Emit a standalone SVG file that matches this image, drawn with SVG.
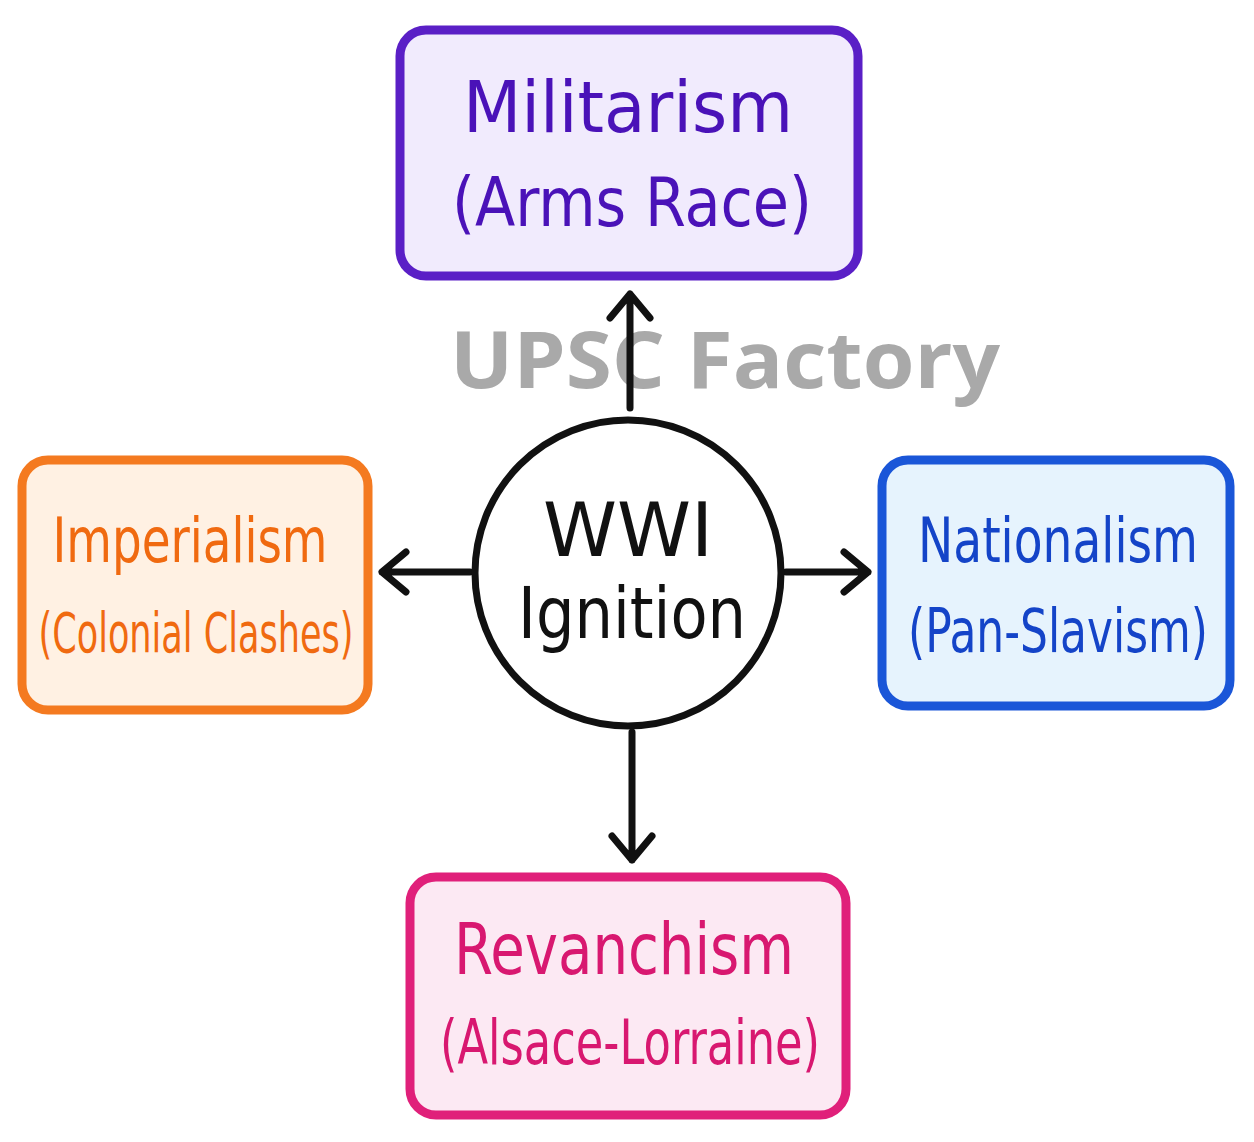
<svg xmlns="http://www.w3.org/2000/svg" width="1254" height="1142" viewBox="0 0 1254 1142">
<style>
.box{stroke-width:9}
.t{font-family:"DejaVu Sans Condensed","DejaVu Sans",sans-serif;font-stretch:condensed;text-anchor:middle}
.c{stroke:#111;stroke-width:7;fill:none;stroke-linecap:round;stroke-linejoin:round}
</style>
<rect width="1254" height="1142" fill="#fff"/>
<text x="725" y="388" font-family="Open Sans, sans-serif" font-weight="bold" font-size="78" fill="#a9a9a9" text-anchor="middle" textLength="550" lengthAdjust="spacingAndGlyphs">UPSC Factory</text>
<g id="connectors">
<path class="c" d="M630,408 L630,294 M610,318 L630,294 L650,318"/>
<path class="c" d="M470,572 L382,572 M406,552 L382,572 L406,592"/>
<path class="c" d="M786,572 L868,572 M844,552 L868,572 L844,592"/>
<path class="c" d="M632,732 L632,860 M612,836 L632,860 L652,836"/>
</g>
<g id="militarism">
<rect class="box" x="400" y="30" width="458" height="246" rx="26" fill="#f1ebfd" stroke="#5a1fc6"/>
<text class="t" x="628" y="132" font-size="72" fill="#4a12b8" textLength="330" lengthAdjust="spacingAndGlyphs">Militarism</text>
<text class="t" x="632" y="226" font-size="68" fill="#4a12b8" textLength="360" lengthAdjust="spacingAndGlyphs">(Arms Race)</text>
</g>
<g id="imperialism">
<rect class="box" x="22" y="460" width="346" height="250" rx="26" fill="#fff1e3" stroke="#f47a20"/>
<text class="t" x="190" y="562" font-size="62" fill="#f06a10" textLength="275" lengthAdjust="spacingAndGlyphs">Imperialism</text>
<text class="t" x="196" y="652" font-size="56" fill="#f06a10" textLength="315" lengthAdjust="spacingAndGlyphs">(Colonial Clashes)</text>
</g>
<g id="nationalism">
<rect class="box" x="882" y="460" width="348" height="246" rx="26" fill="#e6f3fd" stroke="#1a56d8"/>
<text class="t" x="1058" y="562" font-size="62" fill="#1444c8" textLength="280" lengthAdjust="spacingAndGlyphs">Nationalism</text>
<text class="t" x="1058" y="652" font-size="60" fill="#1444c8" textLength="300" lengthAdjust="spacingAndGlyphs">(Pan-Slavism)</text>
</g>
<g id="revanchism">
<rect class="box" x="410" y="877" width="436" height="238" rx="26" fill="#fce9f3" stroke="#e0207a"/>
<text class="t" x="624" y="974" font-size="72" fill="#d81870" textLength="340" lengthAdjust="spacingAndGlyphs">Revanchism</text>
<text class="t" x="630" y="1064" font-size="62" fill="#d81870" textLength="380" lengthAdjust="spacingAndGlyphs">(Alsace-Lorraine)</text>
</g>
<g id="wwi">
<circle cx="628" cy="573" r="153" fill="#fff" stroke="#111" stroke-width="7"/>
<text class="t" x="628" y="556" font-size="74" fill="#111" textLength="170" lengthAdjust="spacingAndGlyphs">WWI</text>
<text class="t" x="632" y="638" font-size="72" fill="#111" textLength="228" lengthAdjust="spacingAndGlyphs">Ignition</text>
</g>
</svg>
